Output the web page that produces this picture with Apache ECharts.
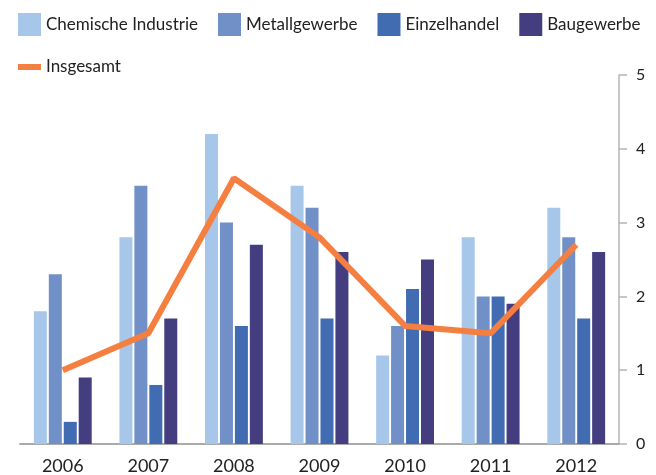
<!DOCTYPE html>
<html>
<head>
<meta charset="utf-8">
<script src="https://cdn.jsdelivr.net/npm/echarts@6/dist/echarts.min.js"></script>
<style>
    html, body { margin: 0; padding: 0; background: #fff; }
    #chart { width: 656px; height: 475px; }
</style>
</head>
<body>
<div id="chart"></div>
<script>
// Daten
var jahre = ['2006', '2007', '2008', '2009', '2010', '2011', '2012'];
var chemie = [1.8, 2.8, 4.2, 3.5, 1.2, 2.8, 3.2];
var metall = [2.3, 3.5, 3.0, 3.2, 1.6, 2.0, 2.8];
var einzelhandel = [0.3, 0.8, 1.6, 1.7, 2.1, 2.0, 1.7];
var bau = [0.9, 1.7, 2.7, 2.6, 2.5, 1.9, 2.6];
var insgesamt = [1.0, 1.5, 3.6, 2.8, 1.6, 1.5, 2.7];
var yTicks = [0, 1, 2, 3, 4, 5];

var schrift = 'Lato';
var myChart = echarts.init(document.getElementById('chart'));

var option = {
    animation: false,
    textStyle: { fontFamily: schrift },
    legend: [
        {
            left: 18,
            top: 13,
            padding: 0,
            width: 640,
            itemWidth: 23,
            itemHeight: 23,
            itemGap: 20,
            icon: 'rect',
            textStyle: { fontSize: 17, color: '#222', fontFamily: schrift },
            data: ['Chemische Industrie', 'Metallgewerbe', 'Einzelhandel', 'Baugewerbe']
        },
        {
            left: 18,
            top: 56,
            padding: 0,
            itemWidth: 23,
            itemHeight: 6,
            icon: 'rect',
            textStyle: { fontSize: 17, color: '#222', fontFamily: schrift, lineHeight: 22 },
            data: ['Insgesamt']
        }
    ],
    grid: {
        left: 20,
        right: 37,
        top: 75,
        bottom: 27,
        containLabel: false
    },
    xAxis: {
        type: 'category',
        data: jahre,
        axisLine: { lineStyle: { color: '#aaaaaa', width: 2 } },
        axisTick: { show: false },
        axisLabel: { fontSize: 18, color: '#222', margin: 13, fontFamily: schrift }
    },
    yAxis: {
        type: 'value',
        position: 'right',
        min: yTicks[0],
        max: yTicks[yTicks.length - 1],
        interval: 1,
        splitLine: { show: false },
        axisLine: { show: true, lineStyle: { color: '#b4b4b4', width: 1.5 } },
        axisTick: { show: true, inside: false, length: 8, lineStyle: { color: '#b4b4b4', width: 1.5 } },
        axisLabel: { fontSize: 16, color: '#222', margin: 17, fontFamily: schrift }
    },
    series: [
        {
            name: 'Chemische Industrie',
            type: 'bar',
            barWidth: 13,
            barGap: '15%',
            itemStyle: { color: '#a6c7ea' },
            data: chemie
        },
        {
            name: 'Metallgewerbe',
            type: 'bar',
            barWidth: 13,
            barGap: '15%',
            itemStyle: { color: '#7190c8' },
            data: metall
        },
        {
            name: 'Einzelhandel',
            type: 'bar',
            barWidth: 13,
            barGap: '15%',
            itemStyle: { color: '#416cb2' },
            data: einzelhandel
        },
        {
            name: 'Baugewerbe',
            type: 'bar',
            barWidth: 13,
            barGap: '15%',
            itemStyle: { color: '#443e80' },
            data: bau
        },
        {
            name: 'Insgesamt',
            type: 'line',
            symbol: 'none',
            lineStyle: { color: '#f47f40', width: 6 },
            itemStyle: { color: '#f47f40' },
            z: 5,
            data: insgesamt
        }
    ]
};
myChart.setOption(option);
</script>
</body>
</html>
